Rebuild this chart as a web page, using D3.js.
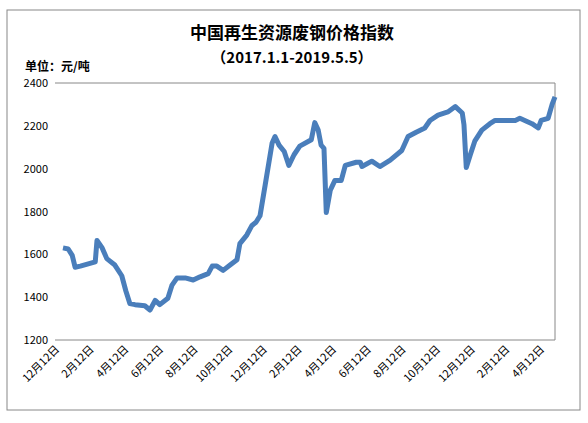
<!DOCTYPE html>
<html><head><meta charset="utf-8">
<script src="https://cdn.jsdelivr.net/npm/d3@7"></script>
<style>body{margin:0;background:#fff}text{font-family:"Noto Sans CJK SC",sans-serif}</style>
</head><body>
<svg id="chart" width="588" height="423"></svg>
<script>
// values
const dates = ["2017-01-01","2017-01-10","2017-01-17","2017-01-22","2017-01-31","2017-02-26","2017-03-01","2017-03-10","2017-03-18","2017-04-01","2017-04-13","2017-04-20","2017-04-27","2017-05-06","2017-05-23","2017-06-01","2017-06-10","2017-06-18","2017-07-02","2017-07-09","2017-07-18","2017-08-01","2017-08-15","2017-08-27","2017-09-10","2017-09-17","2017-09-25","2017-10-06","2017-10-18","2017-10-30","2017-11-04","2017-11-16","2017-11-25","2017-12-02","2017-12-09","2017-12-18","2017-12-30","2018-01-04","2018-01-11","2018-01-20","2018-01-28","2018-02-06","2018-02-16","2018-03-08","2018-03-14","2018-03-20","2018-03-25","2018-03-30","2018-04-03","2018-04-10","2018-04-18","2018-04-29","2018-05-06","2018-05-25","2018-06-01","2018-06-04","2018-06-21","2018-07-05","2018-07-23","2018-08-12","2018-08-23","2018-09-06","2018-09-21","2018-09-30","2018-10-14","2018-10-31","2018-11-13","2018-11-25","2018-11-28","2018-12-02","2018-12-09","2018-12-17","2018-12-29","2019-01-12","2019-01-21","2019-02-25","2019-03-05","2019-03-26","2019-04-06","2019-04-11","2019-04-23","2019-04-30","2019-05-05"];
const prices = [1630,1625,1595,1540,1545,1565,1665,1630,1580,1550,1500,1430,1370,1365,1360,1340,1385,1365,1395,1455,1490,1490,1480,1495,1510,1545,1545,1525,1550,1575,1650,1690,1735,1750,1780,1925,2120,2150,2110,2080,2015,2065,2105,2135,2215,2180,2110,2095,1795,1900,1945,1945,2015,2030,2030,2010,2035,2010,2040,2085,2150,2170,2190,2225,2250,2265,2290,2260,2205,2005,2065,2130,2180,2210,2225,2225,2235,2210,2190,2225,2235,2300,2335];
const yTicks = [1200,1400,1600,1800,2000,2200,2400];
const xLabels = ["12月12日","2月12日","4月12日","6月12日","8月12日","10月12日","12月12日","2月12日","4月12日","6月12日","8月12日","10月12日","12月12日","2月12日","4月12日"];

const svg = d3.select("#chart");
const parse = d3.timeParse("%Y-%m-%d");
const data = dates.map((d, i) => ({date: parse(d), v: prices[i]}));

const x = d3.scaleTime().domain([parse("2017-01-01"), parse("2019-05-05")]).range([63, 555]);
const y = d3.scaleLinear().domain([1200, 2400]).range([340, 83]);

// outer frame
svg.append("rect").attr("x", 7).attr("y", 10).attr("width", 573).attr("height", 400)
  .attr("fill", "none").attr("stroke", "#888");

svg.append("text").attr("x", 292).attr("y", 39).attr("text-anchor", "middle")
  .attr("font-size", 17).attr("font-weight", "bold").text("中国再生资源废钢价格指数");
svg.append("text").attr("x", 292).attr("y", 63).attr("text-anchor", "middle")
  .attr("font-size", 15).attr("font-weight", "bold").text("（2017.1.1-2019.5.5）");
svg.append("text").attr("x", 25).attr("y", 71)
  .attr("font-size", 12).attr("font-weight", "bold").text("单位：元/吨");

// plot box
svg.append("path").attr("d", `M55,83H555V340H55`).attr("fill", "none").attr("stroke", "#888");

svg.selectAll(".yt").data(yTicks).join("text")
  .attr("x", 48).attr("y", d => y(d) + 4).attr("text-anchor", "end")
  .attr("font-size", 11).text(d => d);

const xp = d3.scalePoint().domain(d3.range(xLabels.length)).range([60, 545]);
svg.selectAll(".xt").data(xLabels).join("text")
  .attr("transform", (d, i) => `translate(${xp(i)},350) rotate(-45)`)
  .attr("text-anchor", "end").attr("font-size", 11).text(d => d);

svg.append("path").datum(data)
  .attr("fill", "none").attr("stroke", "#4a7ebb").attr("stroke-width", 5)
  .attr("stroke-linejoin", "round")
  .attr("d", d3.line().x(d => x(d.date)).y(d => y(d.v)));
</script>
</body></html>
